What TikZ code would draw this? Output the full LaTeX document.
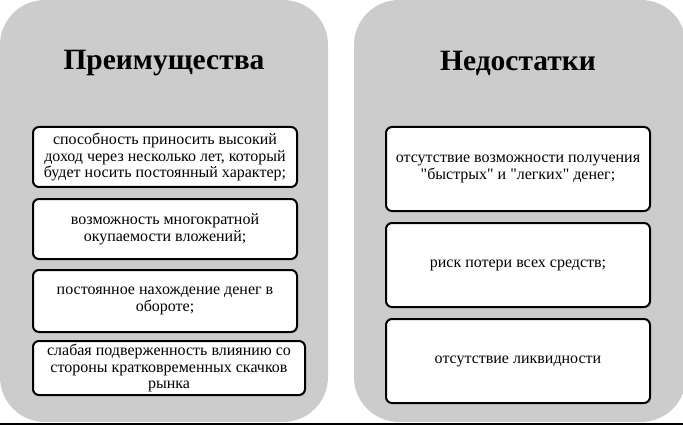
\documentclass[tikz,border=0pt]{standalone}
\usepackage{fontspec}
\setmainfont{Liberation Serif}[Ligatures=TeXOff]
\begin{document}
\begin{tikzpicture}[x=1pt,y=-1pt,
  itembox/.style={draw=black,line width=2pt,fill=white,rounded corners=6pt,
    inner sep=0pt,align=center,font=\fontsize{16}{16.5}\selectfont},
  titletext/.style={font=\fontsize{29.5}{32}\selectfont\bfseries,inner sep=0pt}]
\definecolor{panelgrey}{HTML}{CCCCCC}
\useasboundingbox (0,0) rectangle (683,425);
\fill[panelgrey,rounded corners=45pt] (0,0) rectangle (328,422);
\fill[panelgrey,rounded corners=45pt] (354,0) rectangle (686,422);
\draw[line width=1.5pt] (0,424.2) -- (683,424.2);
\node[titletext] (tl) at (164,63) {Преимущества};
\node[titletext] (tr) at (518,63) {Недостатки};
\node[itembox,minimum width=264pt,minimum height=60pt] (l1) at (165,157)
  {способность приносить высокий\\доход через несколько лет, который\\будет носить постоянный характер;};
\node[itembox,minimum width=264pt,minimum height=60pt] (l2) at (165,229)
  {возможность многократной\\окупаемости вложений;};
\node[itembox,minimum width=264pt,minimum height=62pt] (l3) at (165,301)
  {постоянное нахождение денег в\\обороте;};
\node[itembox,minimum width=272pt,minimum height=54pt] (l4) at (169,368)
  {слабая подверженность влиянию со\\стороны кратковременных скачков\\рынка};
\node[itembox,minimum width=264pt,minimum height=84pt] (r1) at (518,169)
  {отсутствие возможности получения\\"быстрых" и "легких" денег;};
\node[itembox,minimum width=264pt,minimum height=84pt] (r2) at (518,265)
  {риск потери всех средств;};
\node[itembox,minimum width=264pt,minimum height=84pt] (r3) at (518,361)
  {отсутствие ликвидности};
\end{tikzpicture}
\end{document}
